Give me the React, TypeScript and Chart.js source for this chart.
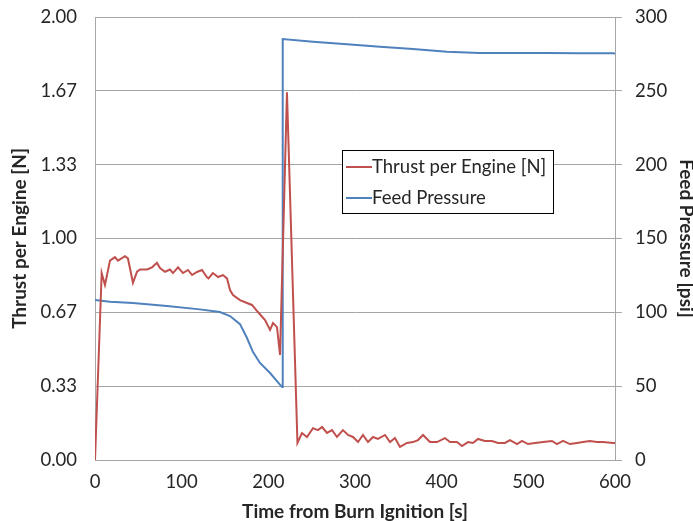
import React, { useEffect, useRef } from 'react';
import { Chart, registerables } from 'chart.js';

Chart.register(...registerables);

// ---- Data ----
const thrustTimes = [
  0, 7.7, 11.5, 17.3, 23, 26.5, 34.6, 38, 43.8, 48.5, 52, 60, 65.8, 71.5, 75, 80.8, 86.5, 90, 95.8,
  101.5, 107.3, 112, 117.7, 123.5, 129, 131, 136, 142, 147.7, 152.3, 155.8, 159.2, 167.3, 175.4,
  181.1, 188, 196.2, 202, 205.4, 210, 213.5, 221.5, 233.6, 238.8, 244.6, 251.5, 257.3, 262, 267.7,
  273.5, 279.2, 286.1, 292, 297.7, 303.5, 309.2, 315, 320.8, 326.5, 334.6, 340.4, 346.1, 351.9,
  360, 366.9, 372.7, 378.5, 386.5, 394.6, 403.8, 409.6, 417.7, 423.4, 430.4, 436.1, 441.9, 450,
  458, 465, 473, 478.8, 487, 492.7, 499.6, 507.7, 517, 527.3, 533, 540, 548, 556, 563, 571, 579,
  586, 597.7, 600,
];
const thrustValues = [
  0, 0.844, 0.79, 0.9, 0.916, 0.9, 0.92, 0.91, 0.8, 0.85, 0.86, 0.86, 0.87, 0.89, 0.867, 0.85, 0.86,
  0.844, 0.87, 0.844, 0.858, 0.835, 0.849, 0.858, 0.826, 0.82, 0.844, 0.826, 0.835, 0.82, 0.767,
  0.745, 0.722, 0.709, 0.7, 0.668, 0.632, 0.587, 0.618, 0.6, 0.474, 1.66, 0.077, 0.122, 0.104,
  0.144, 0.135, 0.149, 0.122, 0.135, 0.104, 0.135, 0.113, 0.104, 0.081, 0.113, 0.081, 0.104,
  0.095, 0.113, 0.081, 0.099, 0.059, 0.077, 0.081, 0.09, 0.113, 0.081, 0.081, 0.099, 0.081, 0.081,
  0.063, 0.081, 0.077, 0.095, 0.086, 0.086, 0.077, 0.077, 0.09, 0.072, 0.086, 0.072, 0.077, 0.081,
  0.086, 0.072, 0.086, 0.072, 0.077, 0.081, 0.086, 0.081, 0.081, 0.077, 0.077,
];
const pressureTimes = [
  0, 17.3, 43.8, 83, 121, 144, 155.8, 167.3, 175.4, 182.3, 190.4, 202, 215.8, 216.6, 251.5, 290.8,
  328.8, 366.9, 406.1, 444.2, 482.3, 521.5, 559.6, 597.7, 600,
];
const pressureValues = [
  108.4, 107.2, 106.3, 104.3, 102, 100.2, 97.5, 92, 82.6, 73.1, 65.7, 58.9, 49.4, 285.1, 283.3,
  281.5, 279.9, 278.3, 276.5, 275.6, 275.6, 275.6, 275.4, 275.4, 275.3,
];

const xTickValues = [0, 100, 200, 300, 400, 500, 600];
const thrustTickValues = [0, 1 / 3, 2 / 3, 1, 4 / 3, 5 / 3, 2];
const thrustTickLabels = ['0.00', '0.33', '0.67', '1.00', '1.33', '1.67', '2.00'];
const pressureTickValues = [0, 50, 100, 150, 200, 250, 300];

const seriesNames = ['Thrust per Engine [N]', 'Feed Pressure'];
const axisTitles = { x: 'Time from Burn Ignition [s]', y: 'Thrust per Engine [N]', y1: 'Feed Pressure [psi]' };

const RED = '#C0504D';
const BLUE = '#4F81BD';
const GRID = '#A6A6A6';
const TEXT = '#262626';
const FONT = 'Lato, "Open Sans", sans-serif';
const TICK_SIZE = 18.5;
const TITLE_SIZE = 19;

const legendPlugin = {
  id: 'boxLegend',
  afterDraw(chart: any) {
    const { ctx, chartArea } = chart;
    const w = chartArea.right - chartArea.left;
    const h = chartArea.bottom - chartArea.top;
    const bx = Math.round(chartArea.left + w * 0.475);
    const by = Math.round(chartArea.top + h * 0.3);
    const bw = 211;
    const bh = 63;
    ctx.save();
    ctx.fillStyle = '#ffffff';
    ctx.fillRect(bx, by, bw, bh);
    ctx.strokeStyle = '#000000';
    ctx.lineWidth = 1;
    ctx.strokeRect(bx + 0.5, by + 0.5, bw, bh);
    ctx.font = `${TICK_SIZE}px ${FONT}`;
    ctx.textBaseline = 'middle';
    ctx.textAlign = 'left';
    chart.data.datasets.forEach((ds: any, i: number) => {
      const cy = by + 17 + i * 31;
      ctx.strokeStyle = ds.borderColor;
      ctx.lineWidth = 2;
      ctx.beginPath();
      ctx.moveTo(bx + 4, cy);
      ctx.lineTo(bx + 30, cy);
      ctx.stroke();
      ctx.fillStyle = TEXT;
      ctx.fillText(ds.label, bx + 30, cy);
    });
    ctx.restore();
  },
};

export default function App() {
  const canvasRef = useRef<HTMLCanvasElement | null>(null);

  useEffect(() => {
    if (!canvasRef.current) return;
    const chart = new Chart(canvasRef.current, {
      type: 'line',
      data: {
        datasets: [
          {
            label: seriesNames[0],
            data: thrustTimes.map((t, i) => ({ x: t, y: thrustValues[i] })),
            borderColor: RED,
            borderWidth: 2,
            pointRadius: 0,
            tension: 0,
            yAxisID: 'y',
          },
          {
            label: seriesNames[1],
            data: pressureTimes.map((t, i) => ({ x: t, y: pressureValues[i] })),
            borderColor: BLUE,
            borderWidth: 2,
            pointRadius: 0,
            tension: 0,
            yAxisID: 'y1',
          },
        ],
      },
      options: {
        responsive: false,
        animation: false,
        layout: { padding: { top: 17, left: 0, right: 0, bottom: 0 } },
        plugins: { legend: { display: false }, tooltip: { enabled: false } },
        scales: {
          x: {
            type: 'linear',
            min: 0,
            max: 600,
            afterBuildTicks: (s: any) => { s.ticks = xTickValues.map((v) => ({ value: v })); },
            afterFit: (s: any) => { s.height = 61; },
            grid: { display: false, drawTicks: false },
            border: { color: GRID, width: 1 },
            ticks: { color: TEXT, font: { family: FONT, size: TICK_SIZE }, padding: 11, maxRotation: 0 },
            title: { display: true, text: axisTitles.x, color: TEXT, font: { family: FONT, size: TITLE_SIZE, weight: 'bold' }, padding: { top: 0, bottom: -2.4 } },
          },
          y: {
            type: 'linear',
            position: 'left',
            min: 0,
            max: 2,
            afterBuildTicks: (s: any) => { s.ticks = thrustTickValues.map((v) => ({ value: v })); },
            afterFit: (s: any) => { s.width = 95; s.paddingTop = 0; s.paddingBottom = 0; },
            grid: { color: GRID, lineWidth: 1, drawTicks: false },
            border: { color: GRID, width: 1 },
            ticks: { color: TEXT, font: { family: FONT, size: TICK_SIZE }, padding: 18, callback: (_v: any, i: number) => thrustTickLabels[i] },
            title: { display: true, text: axisTitles.y, color: TEXT, font: { family: FONT, size: TITLE_SIZE, weight: 'bold' }, padding: { top: 8.6, bottom: 0 } },
          },
          y1: {
            type: 'linear',
            position: 'right',
            min: 0,
            max: 300,
            afterBuildTicks: (s: any) => { s.ticks = pressureTickValues.map((v) => ({ value: v })); },
            afterFit: (s: any) => { s.width = 78; s.paddingTop = 0; s.paddingBottom = 0; },
            grid: { drawOnChartArea: false, drawTicks: true, tickLength: 7, color: GRID },
            border: { color: GRID, width: 1 },
            ticks: { color: TEXT, font: { family: FONT, size: TICK_SIZE }, padding: 13 },
            title: { display: true, text: axisTitles.y1, color: TEXT, font: { family: FONT, size: TITLE_SIZE, weight: 'bold' }, padding: { top: -4.4, bottom: 0 } },
          },
        },
      },
      plugins: [legendPlugin],
    });
    return () => chart.destroy();
  }, []);

  return (
    <div style={{ position: 'absolute', left: 0, top: 0, width: 693, height: 521, background: '#fff' }}>
      <canvas ref={canvasRef} width={693} height={521} style={{ display: 'block' }} />
    </div>
  );
}
